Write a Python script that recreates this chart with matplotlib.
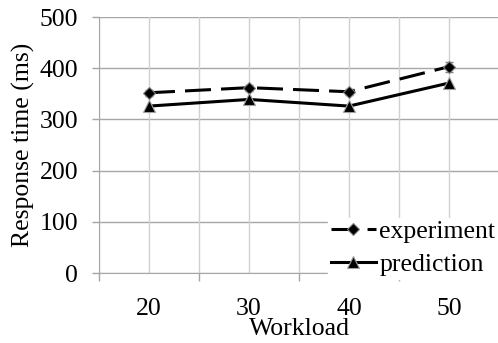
import matplotlib
matplotlib.use("Agg")
import matplotlib.pyplot as plt
import numpy as np

# Workload levels and measured / predicted response times (ms)
workloads = ["20", "30", "40", "50"]
experiment = [352, 362, 354, 403]
experiment_err = [6, 6, 6, 10]
prediction = [326, 339, 326, 371]
y_ticks = [0, 100, 200, 300, 400, 500]

plt.rcParams["font.family"] = ["Liberation Serif", "DejaVu Serif"]
FS = 18.5

W, H = 498, 343
fig = plt.figure(figsize=(W / 100, H / 100), dpi=100)
ax = fig.add_axes([99 / W, 1 - 273 / H, 400 / W, 256 / H])

x = np.arange(1, len(workloads) + 1)

# gridlines: horizontal at y ticks, vertical at categories and boundaries
for yv in y_ticks:
    ax.axhline(yv, color="#a6a6a6", lw=1.0, zorder=0)
for xv in np.arange(0.5, len(workloads) + 1, 0.5):
    ax.axvline(xv, color="#d0d0d0", lw=1.0, zorder=0)

ax.errorbar(x, experiment, yerr=experiment_err, fmt="none", ecolor="#808080",
            elinewidth=0.8, capsize=3, zorder=2)
ax.plot(x, experiment, color="black", lw=2.2, dashes=(8.5, 3.3), marker="D",
        markersize=6.5, markerfacecolor="black", markeredgecolor="#808080",
        markeredgewidth=0.8, label="experiment", zorder=3)
ax.plot(x, prediction, color="black", lw=2.2, marker="^",
        markersize=9, markerfacecolor="black", markeredgecolor="#a0a0a0",
        markeredgewidth=0.8, label="prediction", zorder=3)

ax.set_xlim(0.5, len(workloads) + 0.5)
ax.set_ylim(0, 500)
ax.set_yticks(y_ticks)
ax.set_yticklabels([str(v) for v in y_ticks], fontsize=FS)

ax.set_xticks(x)
ax.set_xticklabels(workloads, fontsize=FS)
ax.set_xticks(np.arange(0.5, len(workloads) + 0.5, 1.0), minor=True)
ax.tick_params(axis="x", which="major", length=0, pad=18)
ax.tick_params(axis="x", which="minor", length=6, color="#a6a6a6", width=1.0)
ax.tick_params(axis="y", length=5, color="#a6a6a6", width=1.0, pad=10)

for side in ["top", "right"]:
    ax.spines[side].set_visible(False)
ax.spines["left"].set_color("#a6a6a6")
ax.spines["bottom"].set_color("#a6a6a6")

ax.set_xlabel("Workload", fontsize=FS, labelpad=-1.5)
ax.set_ylabel("Response time (ms)", fontsize=FS, labelpad=3)

leg = ax.legend(loc="lower right", bbox_to_anchor=(1.0, 1 - 279 / H),
                bbox_transform=fig.transFigure, frameon=True,
                fontsize=FS, handlelength=1.75, handletextpad=0.15,
                borderpad=0.1, labelspacing=0.4, borderaxespad=0.0,
                fancybox=False)
leg.get_frame().set_edgecolor("white")
leg.get_frame().set_facecolor("white")
leg.get_frame().set_alpha(1.0)

fig.savefig("out.png", dpi=100)
